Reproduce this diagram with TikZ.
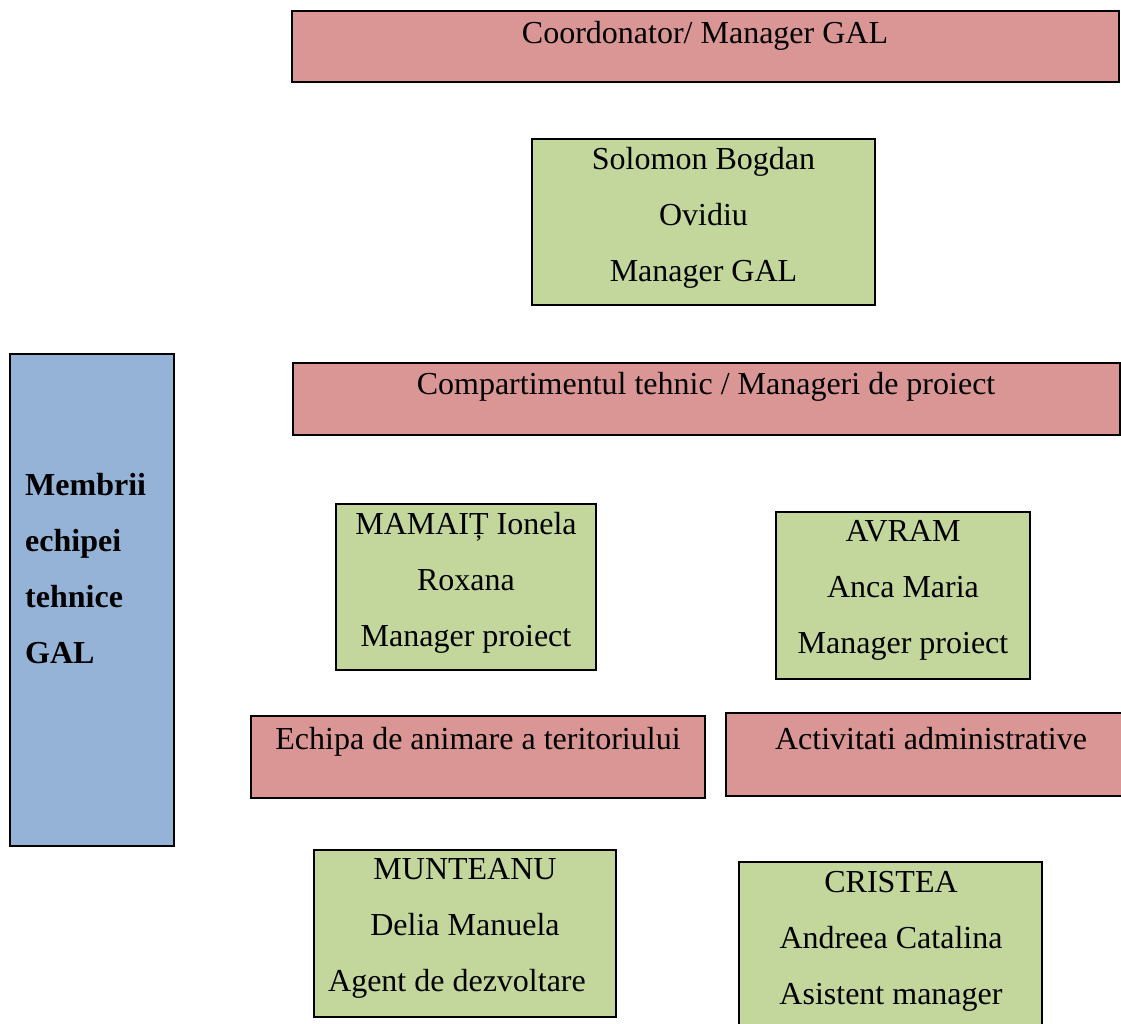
\documentclass[tikz,border=0pt]{standalone}
\usepackage{fontspec}
\setmainfont{Liberation Serif}
\usepackage{tikz}
\usetikzlibrary{positioning}
\definecolor{boxpink}{HTML}{D99694}
\definecolor{boxgreen}{HTML}{C3D69B}
\definecolor{boxblue}{HTML}{95B3D7}
\tikzset{
  box/.style={draw=black, line width=2pt, inner sep=0pt},
  pinkbox/.style={box, fill=boxpink},
  greenbox/.style={box, fill=boxgreen},
  bluebox/.style={box, fill=boxblue},
  txt/.style={inner sep=0pt, align=center, font=\fontsize{32}{56}\selectfont},
}
\begin{document}
\begin{tikzpicture}[x=1pt,y=-1pt]
      \useasboundingbox (0,0) rectangle (1121,1024);
      % pink headers
      \node[pinkbox, minimum width=827pt, minimum height=71pt] (coord) at (705.5,46.5) {};
      \node[pinkbox, minimum width=827pt, minimum height=72pt] (tehnic) at (706.5,399) {};
      \node[pinkbox, minimum width=454pt, minimum height=82pt] (echipa) at (478,757) {};
      \node[pinkbox, minimum width=398pt, minimum height=83pt] (admin) at (925,754.5) {};
      % green boxes with the people
      \node[greenbox, minimum width=343pt, minimum height=166pt] (sol) at (703.5,222) {};
      \node[greenbox, minimum width=260pt, minimum height=166pt] (mamait) at (466,587) {};
      \node[greenbox, minimum width=254pt, minimum height=167pt] (avram) at (903,595.5) {};
      \node[greenbox, minimum width=302pt, minimum height=167pt] (munteanu) at (465,933.5) {};
      \node[greenbox, minimum width=303pt, minimum height=176pt] (cristea) at (890.5,950) {};
      % blue side box
      \node[bluebox, minimum width=164pt, minimum height=492pt] (membrii) at (92,600) {};
      % texts
      \node[txt] (coord-t) at (705,35.5) {Coordonator/ Manager GAL};
      \node[txt] (tehnic-t) at (706,386.5) {Compartimentul tehnic / Manageri de proiect};
      \node[txt] (echipa-t) at (478,741.5) {Echipa de animare a teritoriului};
      \node[txt] (admin-t) at (931,738.5) {Activitati administrative};
      \node[txt] (sol-t) at (703.5,217.5) {Solomon Bogdan\\Ovidiu\\Manager GAL};
      \node[txt] (mamait-t) at (466,582.5) {MAMAIȚ Ionela\\Roxana\\Manager proiect};
      \node[txt] (avram-t) at (903,590.5) {AVRAM\\Anca Maria\\Manager proiect};
      \node[txt] (munteanu-t) at (465,928.5) {MUNTEANU\\Delia Manuela\\\hspace*{-16pt}Agent de dezvoltare};
      \node[txt] (cristea-t) at (891,941.5) {CRISTEA\\Andreea Catalina\\Asistent manager};
      \node[txt, align=left, anchor=west, font=\fontsize{32}{56}\selectfont\bfseries] (membrii-t) at (25,568.5) {Membrii\\echipei\\tehnice\\GAL};
\end{tikzpicture}
\end{document}
